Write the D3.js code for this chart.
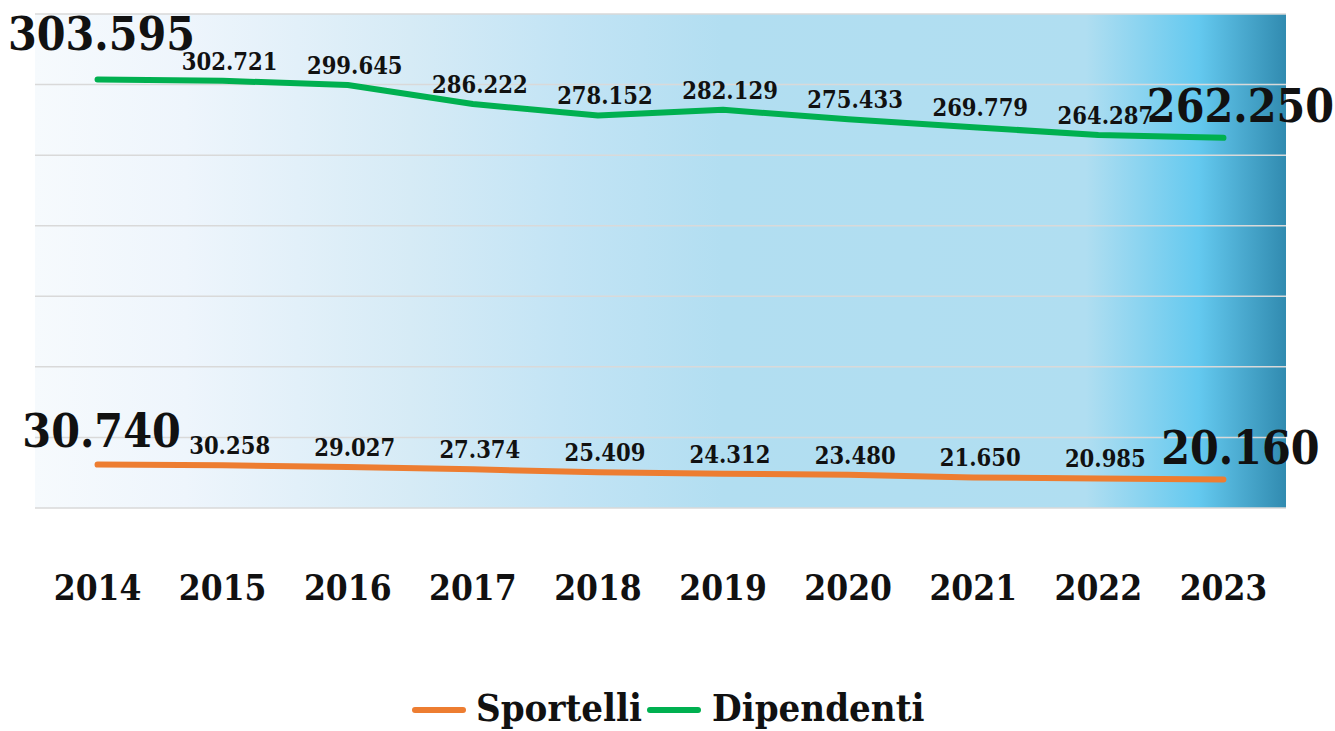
<!DOCTYPE html>
<html>
<head>
<meta charset="utf-8">
<script src="https://cdn.jsdelivr.net/npm/d3@7"></script>
<style>
  body { margin: 0; background: #fff; }
  svg { display: block; }
  text { font-family: "DejaVu Serif Condensed", "DejaVu Serif", serif; font-weight: bold; font-stretch: condensed; fill: #111; }
</style>
</head>
<body>
<script>
var years = ['2014','2015','2016','2017','2018','2019','2020','2021','2022','2023'];
var sportelli = [30740, 30258, 29027, 27374, 25409, 24312, 23480, 21650, 20985, 20160];
var dipendenti = [303595, 302721, 299645, 286222, 278152, 282129, 275433, 269779, 264287, 262250];
var seriesNames = ['Sportelli', 'Dipendenti'];
var seriesColors = ['#ed7d31', '#00b050'];
var yTicks = [0, 50000, 100000, 150000, 200000, 250000, 300000, 350000];

var W = 1335, H = 731;
var pLeft = 35, pRight = 1286, pTop = 14, pBottom = 508;

var svg = d3.select("body").append("svg")
			.attr("width", W)
			.attr("height", H);

var x = d3.scaleBand()
			.domain(years)
			.range([pLeft, pRight]);

var y = d3.scaleLinear()
			.domain([0, 350000])
			.range([pBottom, pTop]);

// background gradient
var grad = svg.append("defs").append("linearGradient")
			.attr("id", "bg")
			.attr("x1", 0).attr("x2", 1).attr("y1", 0).attr("y2", 0);
var stops = [[0, '#f6fafd'], [0.12, '#eef5fc'], [0.3, '#d6ebf6'], [0.42, '#c3e4f5'], [0.55, '#b2def1'],
			[0.84, '#b0def1'], [0.93, '#64c9ef'], [1, '#318bb0']];
grad.selectAll("stop").data(stops).enter().append("stop")
			.attr("offset", function(d){ return d[0]; })
			.attr("stop-color", function(d){ return d[1]; });

svg.append("rect")
		.attr("x", pLeft)
		.attr("y", pTop)
		.attr("width", pRight - pLeft)
		.attr("height", pBottom - pTop)
		.attr("fill", "url(#bg)");

// gridlines
svg.selectAll("line.grid")
		.data(yTicks)
		.enter().append("line")
			.attr("class", "grid")
			.attr("x1", pLeft)
			.attr("x2", pRight)
			.attr("y1", function(d){ return y(d); })
			.attr("y2", function(d){ return y(d); })
			.attr("stroke", "#d9d9d9")
			.attr("stroke-width", 1.5);

// x axis
var xAxis = d3.axisBottom(x).tickSize(0).tickPadding(0);
var gx = svg.append("g")
		.attr("transform", "translate(0," + pBottom + ")")
		.call(xAxis);
gx.select(".domain").remove();
gx.attr("font-family", null).attr("font-size", null);
gx.selectAll("text")
		.attr("y", 92)
		.attr("dy", null)
		.attr("font-size", 35);

var cx = function(d, i){ return x(years[i]) + x.bandwidth() / 2; };
var line = d3.line()
			.x(cx)
			.y(function(d){ return y(d); });

var series = [sportelli, dipendenti];

series.forEach(function(s, k){
	svg.append("path")
		.datum(s)
		.attr("d", line)
		.attr("fill", "none")
		.attr("stroke", seriesColors[k])
		.attr("stroke-width", 6)
		.attr("stroke-linecap", "round")
		.attr("stroke-linejoin", "round");
});

var fmt = function(v){ return d3.format(",")(v).replace(/,/g, "."); };

series.forEach(function(s, k){
	svg.selectAll("text.lab" + k)
		.data(s)
		.enter().append("text")
			.attr("class", "lab" + k)
			.attr("text-anchor", "middle")
			.attr("x", function(d, i){
				if (i == 0) return cx(d, i) + 4;
				if (i == s.length - 1) return cx(d, i) + 17;
				return cx(d, i) + 7;
			})
			.attr("y", function(d, i){
				if (i == 0) return y(d) - (k == 1 ? 29 : 18);
				if (i == s.length - 1) return y(d) - 16;
				return y(d) - 11;
			})
			.attr("font-size", function(d, i){ return (i == 0 || i == s.length - 1) ? 46 : 23.5; })
			.text(fmt);
});

// legend
var legend = svg.append("g");
var legX = [415, 650];
var legTextX = [476, 712];
seriesNames.forEach(function(name, k){
	legend.append("line")
		.attr("x1", legX[k])
		.attr("x2", legX[k] + 48)
		.attr("y1", 710)
		.attr("y2", 710)
		.attr("stroke", seriesColors[k])
		.attr("stroke-width", 6)
		.attr("stroke-linecap", "round");
	legend.append("text")
		.attr("x", legTextX[k])
		.attr("y", 721)
		.attr("font-size", 38)
		.text(name);
});
</script>
</body>
</html>
